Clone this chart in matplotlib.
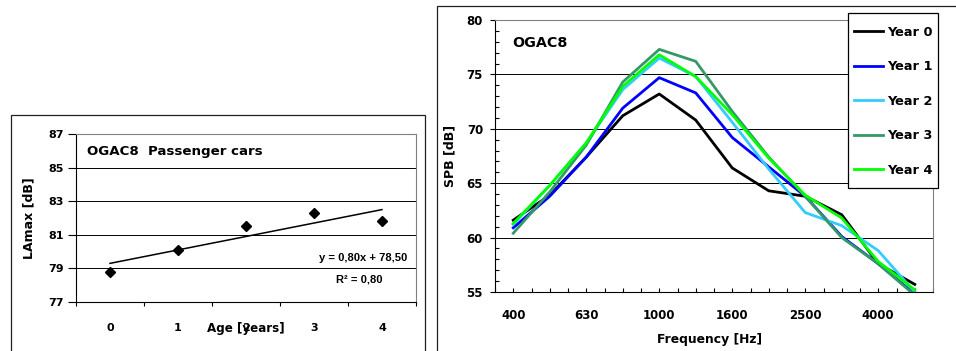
import numpy as np
import matplotlib
matplotlib.use('Agg')
import matplotlib.pyplot as plt
from matplotlib.patches import Rectangle

# %% DATA

# left panel: LAmax vs age
age = [0, 1, 2, 3, 4]
lamax = [78.8, 80.1, 81.5, 82.3, 81.8]
trend_slope = 0.80
trend_intercept = 78.50
trend_r2 = 0.80

# right panel: SPB spectra per year
freq_labels = ['400', '500', '630', '800', '1000', '1250', '1600',
               '2000', '2500', '3150', '4000', '5000']
year0 = [61.6, 63.9, 67.4, 71.2, 73.2, 70.8, 66.4, 64.3, 63.8, 62.1, 57.6, 55.7]
year1 = [60.9, 63.8, 67.4, 71.9, 74.7, 73.3, 69.2, 66.5, 63.8, 60.1, 57.6, 54.8]
year2 = [61.2, 64.8, 68.7, 73.6, 76.5, 74.8, 70.6, 66.3, 62.3, 61.1, 58.8, 55.0]
year3 = [60.4, 64.2, 68.5, 74.3, 77.3, 76.2, 71.6, 67.4, 63.8, 60.0, 57.6, 54.7]
year4 = [61.3, 64.8, 68.7, 73.9, 76.8, 74.8, 71.3, 67.3, 63.9, 61.8, 57.8, 55.2]
year_names = ['Year 0', 'Year 1', 'Year 2', 'Year 3', 'Year 4']
year_colors = ['black', '#0000FF', '#33CCFF', '#339966', '#00FF00']

# %% FIGURE

plt.rcParams['font.family'] = 'DejaVu Sans'
plt.rcParams['font.weight'] = 'bold'

W, H = 956, 351
fig = plt.figure(figsize=(W / 100, H / 100), dpi=100)
fig.patch.set_facecolor('white')

# chart frames (partly outside the image)
fig.add_artist(Rectangle((11 / W, -0.1), (425 - 11) / W, 1.1 - 115 / H,
                         transform=fig.transFigure, fill=False,
                         edgecolor='#202020', lw=0.9))
fig.add_artist(Rectangle((437 / W, -0.1), 1.0, 1.1 - 6 / H,
                         transform=fig.transFigure, fill=False,
                         edgecolor='#202020', lw=0.9))

# %% LEFT PANEL

ax1 = fig.add_axes([76 / W, 1 - 302 / H, 340 / W, 168 / H])
x_age = np.array(age)
ax1.plot(x_age, lamax, linestyle='None', marker='D', color='black', ms=4.8)
x_fit = np.array([age[0], age[-1]])
ax1.plot(x_fit, trend_slope * (x_fit + 1) + trend_intercept, color='black', lw=1.1)

ax1.set_xlim(-0.5, 4.5)
ax1.set_ylim(77, 87)
ax1.set_yticks(np.arange(77, 88, 2))
ax1.grid(axis='y', color='black', lw=0.7)
ax1.set_xticks(np.arange(-0.5, 4.6, 1))
ax1.set_xticklabels([])
ax1.set_xticks(x_age, [str(a) for a in age], minor=True)
ax1.tick_params(axis='x', which='major', direction='out', length=3, width=0.8)
ax1.tick_params(axis='x', which='minor', length=0, pad=15, labelsize=8)
ax1.tick_params(axis='y', direction='out', length=5.5, width=0.8, pad=3.5, labelsize=8)
for s in ['top', 'right']:
    ax1.spines[s].set_color('#808080')
ax1.set_ylabel('LAmax [dB]', fontsize=9, fontweight='bold')
ax1.yaxis.set_label_coords(-0.12, 0.5)
ax1.set_xlabel('Age [years]', fontsize=8.6, fontweight='bold')
ax1.xaxis.set_label_coords(0.5, -0.122)
ax1.text(0.032, 0.893, 'OGAC8  Passenger cars', transform=ax1.transAxes,
         fontsize=9.6, fontweight='bold', va='center', ha='left')
ax1.text(0.9756, 0.264, f'y = {trend_slope:.2f}x + {trend_intercept:.2f}'.replace('.', ','),
         transform=ax1.transAxes, fontsize=8, fontweight='bold',
         family='Liberation Sans', va='center', ha='right')
ax1.text(0.902, 0.131, f'R² = {trend_r2:.2f}'.replace('.', ','),
         transform=ax1.transAxes, fontsize=8, fontweight='bold',
         family='Liberation Sans', va='center', ha='right')

# %% RIGHT PANEL

ax2 = fig.add_axes([495 / W, 1 - 292 / H, 438 / W, 272 / H])
xf = np.arange(len(freq_labels))
lines = []
for vals, name, col in zip([year0, year1, year2, year3, year4], year_names, year_colors):
    ln, = ax2.plot(xf, vals, color=col, lw=2.0, label=name)
    lines.append(ln)

ax2.set_xlim(-0.5, len(freq_labels) - 0.5)
ax2.set_ylim(55, 80)
ax2.set_yticks(np.arange(55, 81, 5))
ax2.set_yticks(np.arange(55, 81, 1), minor=True)
ax2.grid(axis='y', which='major', color='black', lw=0.7)
ax2.set_xticks(xf, [f if i % 2 == 0 else '' for i, f in enumerate(freq_labels)])
ax2.set_xticks(np.arange(-0.5, len(freq_labels), 1), minor=True)
ax2.tick_params(axis='x', which='both', direction='in', length=3, width=0.8)
ax2.tick_params(axis='x', which='major', pad=12.5, labelsize=8.5)
ax2.tick_params(axis='y', which='major', direction='out', length=3.6, width=0.8,
                pad=5, labelsize=8.5)
ax2.tick_params(axis='y', which='minor', direction='in', length=3, width=0.8)
for s in ['top', 'right']:
    ax2.spines[s].set_color('#808080')
ax2.set_ylabel('SPB [dB]', fontsize=9, fontweight='bold')
ax2.yaxis.set_label_coords(-0.088, 0.5)
ax2.set_xlabel('Frequency [Hz]', fontsize=8.9, fontweight='bold')
ax2.xaxis.set_label_coords(0.49, -0.151)
ax2.text(0.039, 0.915, 'OGAC8', transform=ax2.transAxes,
         fontsize=10.3, fontweight='bold', va='center', ha='left')

# legend box drawn separately so that its padding can match the original
fig.add_artist(Rectangle((848 / W, 1 - 188 / H), 90 / W, 175 / H,
                         transform=fig.transFigure, facecolor='white',
                         edgecolor='black', lw=0.9, zorder=4))
fig.legend(handles=lines, labels=year_names, loc='upper left',
           bbox_to_anchor=(854 / W, 1 - 25.5 / H), bbox_transform=fig.transFigure,
           borderaxespad=0, borderpad=0, frameon=False,
           prop={'size': 9.3, 'weight': 'bold'},
           handlelength=2.25, handletextpad=0.3, labelspacing=1.67).set_zorder(5)

fig.savefig('out.png', dpi=100)
